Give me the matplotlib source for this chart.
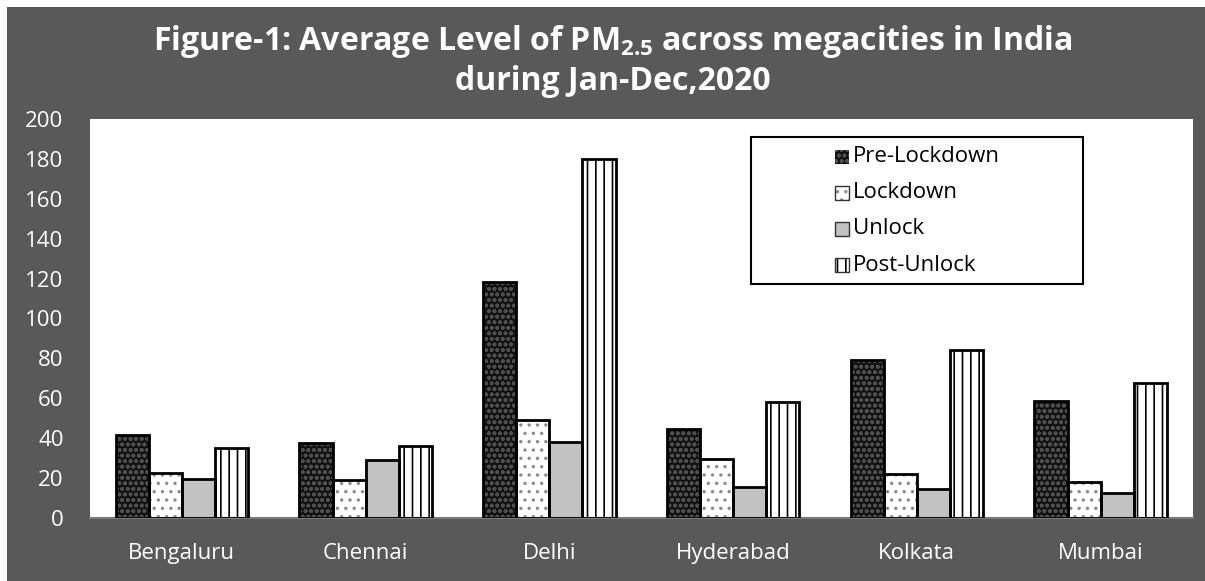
import numpy as np
import matplotlib.pyplot as plt
from matplotlib.patches import Rectangle

# PM2.5 averages (ug/m3)
cities = ['Bengaluru', 'Chennai', 'Delhi', 'Hyderabad', 'Kolkata', 'Mumbai']
pre_lockdown = [41.5, 37.4, 118.5, 44.5, 79.2, 58.8]
lockdown = [22.4, 19.0, 49.1, 29.6, 22.0, 18.2]
unlock = [19.5, 29.0, 38.3, 15.7, 14.7, 12.4]
post_unlock = [35.3, 36.3, 180.0, 58.3, 84.0, 67.8]
phases = ['Pre-Lockdown', 'Lockdown', 'Unlock', 'Post-Unlock']
y_ticks = [0, 20, 40, 60, 80, 100, 120, 140, 160, 180, 200]

# look of each phase: face colour, hatch, hatch colour
styles = [
    ('#101010', 'ooo', '#4e4e4e'),
    ('white', '..', '#8a8a8a'),
    ('#c2c2c2', '', '#c2c2c2'),
    ('white', '||', 'black'),
]

W, H = 1205, 581
BG = '#595959'
FONT = 'Open Sans'

plt.rcParams['font.family'] = [FONT, 'DejaVu Sans']
plt.rcParams['hatch.linewidth'] = 1.2
plt.rcParams['mathtext.fontset'] = 'custom'
plt.rcParams['mathtext.rm'] = FONT + ':bold'
plt.rcParams['mathtext.it'] = FONT + ':bold'
plt.rcParams['mathtext.bf'] = FONT + ':bold'


def fx(px):
    return px / W


def fy(py):
    return 1 - py / H


fig = plt.figure(figsize=(W / 100, H / 100), dpi=100, facecolor='white')
fig.patches.append(Rectangle((fx(7), 0), 1, fy(7), transform=fig.transFigure,
                             facecolor=BG, edgecolor='none', zorder=-10))

ax = fig.add_axes([fx(90), fy(518), fx(1192.5) - fx(90), fy(119) - fy(518)])
ax.set_facecolor('white')

series = [pre_lockdown, lockdown, unlock, post_unlock]
x = np.arange(len(cities))
bw = 0.18
for i, vals in enumerate(series):
    fc, hatch, hc = styles[i]
    pos = x + (i - 1.5) * bw
    ax.bar(pos, vals, bw, color=fc, edgecolor=hc, hatch=hatch, linewidth=0, zorder=2)
    ax.bar(pos, vals, bw, fill=False, edgecolor='black', linewidth=2, zorder=3)

ax.set_xlim(-0.5, len(cities) - 0.5)
ax.set_ylim(0, 200)
ax.set_yticks(y_ticks)
ax.set_xticks(x)
ax.set_xticklabels(cities)
ax.tick_params(axis='both', length=0, colors='white', labelsize=16)
ax.tick_params(axis='y', pad=19)
ax.tick_params(axis='x', pad=18)
for s in ax.spines.values():
    s.set_visible(False)
ax.spines['bottom'].set_visible(True)
ax.spines['bottom'].set_color('#7a7a7a')
ax.spines['bottom'].set_linewidth(1.5)

# title
fig.text(fx(613), fy(42), 'Figure-1: Average Level of PM$_{2.5}$ across megacities in India',
         ha='center', va='center', color='white', fontsize=23, fontweight='bold')
fig.text(fx(613), fy(81), 'during Jan-Dec,2020',
         ha='center', va='center', color='white', fontsize=23, fontweight='bold')

# legend box drawn by hand to keep the wide left margin
fig.patches.append(Rectangle((fx(751), fy(284)), fx(1083) - fx(751), fy(137) - fy(284),
                             transform=fig.transFigure, facecolor='white',
                             edgecolor='black', linewidth=1.5, zorder=5))
row_y = [157, 193, 229, 265]
for i, name in enumerate(phases):
    fc, hatch, hc = styles[i]
    fig.patches.append(Rectangle((fx(835), fy(row_y[i] + 7)), fx(14), 14 / H,
                                 transform=fig.transFigure, facecolor=fc,
                                 edgecolor=hc, hatch=hatch, linewidth=0, zorder=6))
    if i > 0:
        fig.patches.append(Rectangle((fx(835), fy(row_y[i] + 7)), fx(14), 14 / H,
                                     transform=fig.transFigure, fill=False,
                                     edgecolor='#333333', linewidth=1, zorder=7))
    fig.text(fx(853), fy(row_y[i]), name, ha='left', va='center',
             color='black', fontsize=16, zorder=7)

fig.savefig('out.png', dpi=100, facecolor=fig.get_facecolor())
